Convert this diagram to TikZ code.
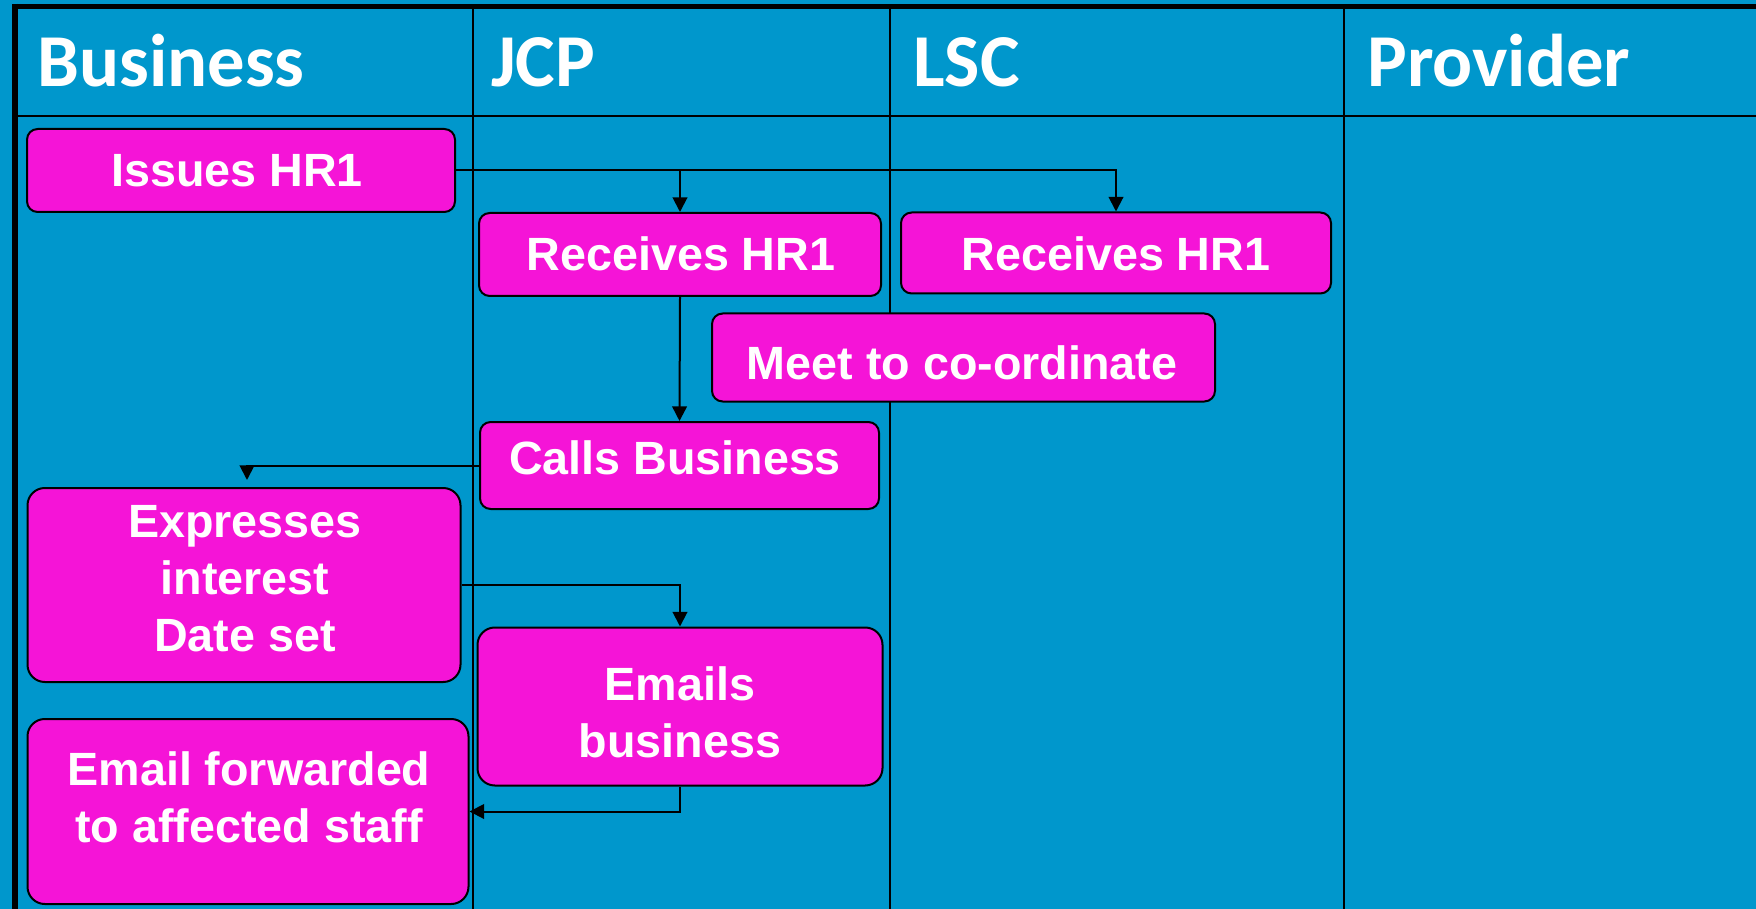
\documentclass[tikz,border=0pt]{standalone}
\usepackage{fontspec}
\newfontfamily\headfont{Carlito}
\newfontfamily\boxfont{Liberation Sans}
\usetikzlibrary{arrows.meta}
\definecolor{lanebg}{RGB}{0,151,204}
\definecolor{boxfill}{RGB}{245,20,215}
\begin{document}
\begin{tikzpicture}[x=0.75pt,y=-0.75pt,
  lane/.style={line width=1.5pt, draw=black},
  border/.style={line width=4pt, draw=black},
  stepbox/.style={draw=black, line width=1.5pt, fill=boxfill, rounded corners=8pt, inner sep=0pt},
  tallbox/.style={stepbox, rounded corners=13pt},
  boxtext/.style={text=white, font=\boxfont\bfseries\fontsize{35}{42.75}\selectfont, align=center, inner sep=0pt},
  headtext/.style={text=white, font=\headfont\bfseries\fontsize{56}{60}\selectfont, anchor=base west, inner sep=0pt},
  conn/.style={line width=1.5pt, draw=black, -{Triangle[length=11pt,width=11pt]}},
]
% background and bounding box
\fill[lanebg] (0,0) rectangle (1756,909);
\useasboundingbox (0,0) rectangle (1756,909);

% lanes
\draw[lane] (473,5) -- (473,909);
\draw[lane] (890,5) -- (890,909);
\draw[lane] (1344,5) -- (1344,909);
\draw[lane] (15,116) -- (1756,116);
\draw[border] (15,4) -- (15,909);
\draw[border] (13,6.7) -- (1756,6.7);

% headers
\node[headtext] (hbus) at (37,87) {Business};
\node[headtext] (hjcp) at (491,87) {JCP};
\node[headtext] (hlsc) at (913,87) {LSC};
\node[headtext] (hprov) at (1367,87) {Provider};

% boxes
\node[stepbox, minimum width=321pt, minimum height=62.25pt] (issue) at (241,170.5) {};
\node[stepbox, minimum width=301.5pt, minimum height=62.25pt] (recvj) at (680,254.5) {};
\node[stepbox, minimum width=322.5pt, minimum height=60.75pt] (recvl) at (1116,253) {};
\node[stepbox, minimum width=377.25pt, minimum height=66pt] (meet) at (963.5,357.5) {};
\node[stepbox, minimum width=299.25pt, minimum height=65.25pt] (calls) at (679.5,465.5) {};
\node[tallbox, minimum width=324.75pt, minimum height=145.5pt] (expr) at (244,585) {};
\node[tallbox, minimum width=303.75pt, minimum height=118.5pt] (emails) at (680,706.5) {};
\node[tallbox, minimum width=330.75pt, minimum height=138.75pt] (fwd) at (248,811.5) {};

% box texts
\node[boxtext, anchor=base] (t1) at (237,187) {Issues HR1};
\node[boxtext, anchor=base] (t2) at (681,271) {Receives HR1};
\node[boxtext, anchor=base] (t3) at (1116,271) {Receives HR1};
\node[boxtext, anchor=base] (t4) at (962,379) {Meet to co-ordinate};
\node[boxtext, anchor=base] (t5) at (675,474) {Calls Business};
\node[boxtext] (t6) at (245,579) {Expresses\\interest\\Date set};
\node[boxtext] (t7) at (680,712) {Emails\\business};
\node[boxtext] (t8) at (249,797) {Email forwarded\\to affected staff};

% connectors
\draw[conn] (issue.east) -| (recvl.north);
\draw[conn] (issue.east -| recvj.north) -- (recvj.north);
\draw[conn] (recvj.south) -- (calls.north);
\coordinate (drop) at (247,480);
\draw[conn] (calls.west) -| (drop);
\draw[conn] (expr.east) -| (emails.north);
\draw[conn] (emails.south) |- (fwd.east);
\end{tikzpicture}
\end{document}
